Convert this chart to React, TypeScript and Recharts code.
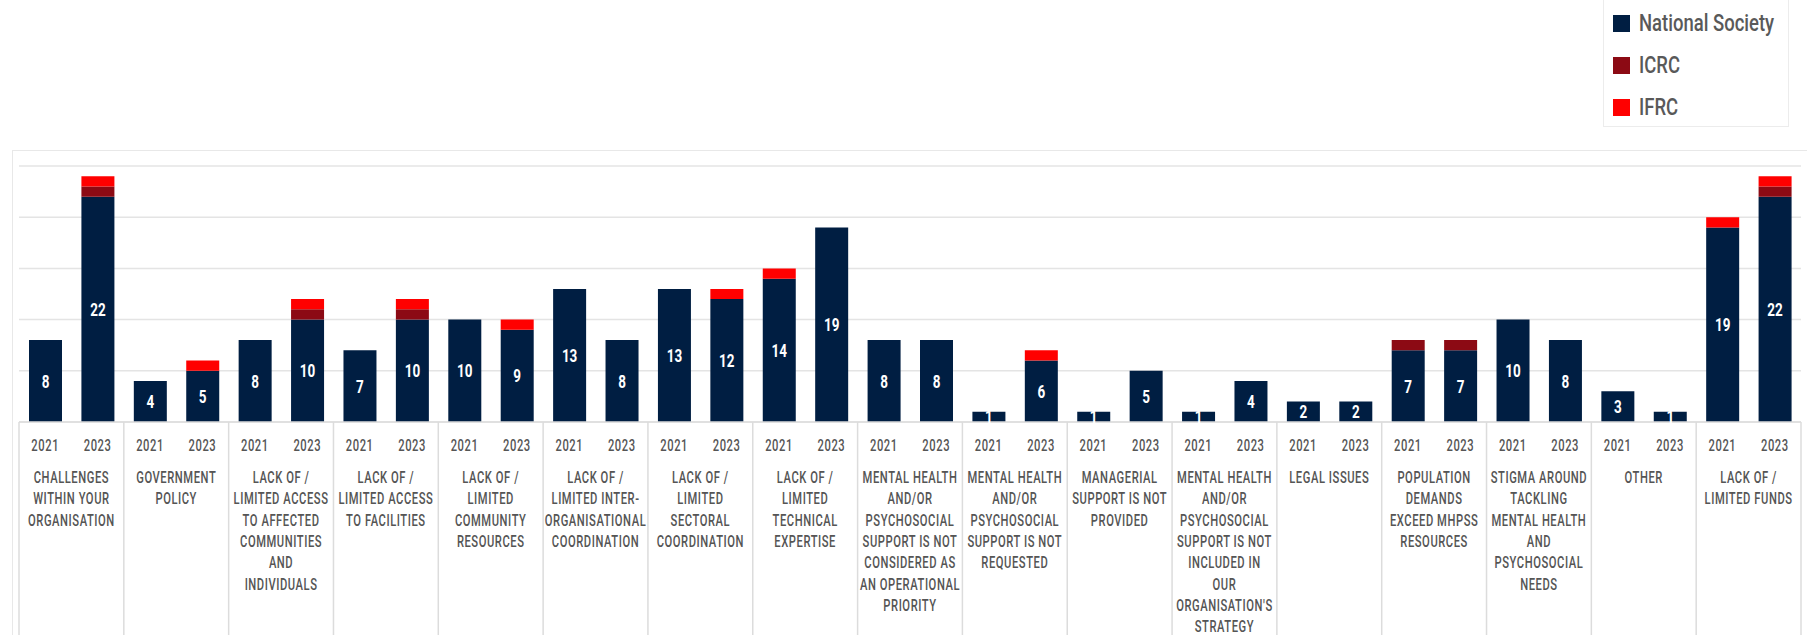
import React from "react";
import { BarChart, Bar, XAxis, YAxis, CartesianGrid, Legend, LabelList } from "recharts";

const categories = [
  "CHALLENGES\nWITHIN YOUR\nORGANISATION",
  "GOVERNMENT\nPOLICY",
  "LACK OF /\nLIMITED ACCESS\nTO AFFECTED\nCOMMUNITIES\nAND\nINDIVIDUALS",
  "LACK OF /\nLIMITED ACCESS\nTO FACILITIES",
  "LACK OF /\nLIMITED\nCOMMUNITY\nRESOURCES",
  "LACK OF /\nLIMITED INTER-\nORGANISATIONAL\nCOORDINATION",
  "LACK OF /\nLIMITED\nSECTORAL\nCOORDINATION",
  "LACK OF /\nLIMITED\nTECHNICAL\nEXPERTISE",
  "MENTAL HEALTH\nAND/OR\nPSYCHOSOCIAL\nSUPPORT IS NOT\nCONSIDERED AS\nAN OPERATIONAL\nPRIORITY",
  "MENTAL HEALTH\nAND/OR\nPSYCHOSOCIAL\nSUPPORT IS NOT\nREQUESTED",
  "MANAGERIAL\nSUPPORT IS NOT\nPROVIDED",
  "MENTAL HEALTH\nAND/OR\nPSYCHOSOCIAL\nSUPPORT IS NOT\nINCLUDED IN\nOUR\nORGANISATION'S\nSTRATEGY",
  "LEGAL ISSUES",
  "POPULATION\nDEMANDS\nEXCEED MHPSS\nRESOURCES",
  "STIGMA AROUND\nTACKLING\nMENTAL HEALTH\nAND\nPSYCHOSOCIAL\nNEEDS",
  "OTHER",
  "LACK OF /\nLIMITED FUNDS",
];

const years = ["2021", "2023"];
const seriesNames = ["National Society", "ICRC", "IFRC"];

const nationalSociety2021 = [8, 4, 8, 7, 10, 13, 13, 14, 8, 1, 1, 1, 2, 7, 10, 3, 19];
const nationalSociety2023 = [22, 5, 10, 10, 9, 8, 12, 19, 8, 6, 5, 4, 2, 7, 8, 1, 22];
const icrc2021 = [0, 0, 0, 0, 0, 0, 0, 0, 0, 0, 0, 0, 0, 1, 0, 0, 0];
const icrc2023 = [1, 0, 1, 1, 0, 0, 0, 0, 0, 0, 0, 0, 0, 1, 0, 0, 1];
const ifrc2021 = [0, 0, 0, 0, 0, 0, 0, 1, 0, 0, 0, 0, 0, 0, 0, 0, 1];
const ifrc2023 = [1, 1, 1, 1, 1, 0, 1, 0, 0, 1, 0, 0, 0, 0, 0, 0, 1];

const yTicks = [0, 5, 10, 15, 20, 25];

const NAVY = "#001e42";
const DARK_RED = "#8c0a14";
const RED = "#ff0000";
const FONT = "Roboto, sans-serif";
const SQUEEZE = 0.7;

const data = categories.flatMap((cat, i) => [
  { id: `${i}-${years[0]}`, year: years[0], category: cat, ns: nationalSociety2021[i], icrc: icrc2021[i], ifrc: ifrc2021[i] },
  { id: `${i}-${years[1]}`, year: years[1], category: cat, ns: nationalSociety2023[i], icrc: icrc2023[i], ifrc: ifrc2023[i] },
]);

const W = 1807;
const H = 635;
const MARGIN = { top: 166, right: 6, bottom: 0, left: 19 };
const AXIS_H = 213;
const SLOT = (W - MARGIN.left - MARGIN.right) / data.length;

// condensed text: the page has no narrow fonts, so squeeze horizontally
const Narrow = ({ x, y, children, size = 16, fill = "#555", weight = 500, sx = SQUEEZE, ls = 0.8 }: any) => (
  <text
    transform={`translate(${x},${y}) scale(${sx},1)`}
    textAnchor="middle"
    fill={fill}
    fontSize={size}
    fontWeight={weight}
    letterSpacing={ls}
    fontFamily={FONT}
  >
    {children}
  </text>
);

const CategoryTick = (props: any) => {
  const { x, y, index } = props;
  const row = data[index];
  const parts: React.ReactNode[] = [];
  parts.push(
    <Narrow key="yr" x={x} y={y + 29}>
      {row.year}
    </Narrow>
  );
  if (index % 2 === 0) {
    const cx = x + SLOT / 2;
    parts.push(<line key="sep" x1={x - SLOT / 2} x2={x - SLOT / 2} y1={y} y2={y + AXIS_H} stroke="#dcdcdc" strokeWidth={1.5} />);
    row.category.split("\n").forEach((ln, k) => {
      parts.push(
        <Narrow key={"c" + k} x={cx} y={y + 61 + k * 21.3}>
          {ln}
        </Narrow>
      );
    });
  }
  if (index === data.length - 1) {
    parts.push(<line key="end" x1={x + SLOT / 2} x2={x + SLOT / 2} y1={y} y2={y + AXIS_H} stroke="#dcdcdc" strokeWidth={1.5} />);
  }
  return <g>{parts}</g>;
};

const BarValue = (props: any) => {
  const { x, y, width, height, value } = props;
  return (
    <Narrow x={x + width / 2} y={y + height / 2 + 6.5} size={18} fill="#fff" weight="bold" sx={0.75} ls={0}>
      {value}
    </Narrow>
  );
};

const LegendBox = (props: any) => {
  const items = [...(props.payload || [])].sort(
    (a: any, b: any) => seriesNames.indexOf(a.value) - seriesNames.indexOf(b.value)
  );
  return (
    <div style={{ border: "1px solid #ececec", borderTop: "none", width: 186, height: 127, boxSizing: "border-box", paddingTop: 2 }}>
      {items.map((it: any) => (
        <div key={it.value} style={{ display: "flex", alignItems: "center", height: 42, paddingLeft: 9, whiteSpace: "nowrap" }}>
          <span style={{ width: 17, height: 17, background: it.color, display: "inline-block", marginRight: 9, flex: "none" }} />
          <span
            style={{
              fontFamily: FONT,
              fontSize: 24,
              fontWeight: 500,
              color: "#595959",
              display: "inline-block",
              transform: "scaleX(0.77)",
              transformOrigin: "left center",
            }}
          >
            {it.value}
          </span>
        </div>
      ))}
    </div>
  );
};

export default function App() {
  return (
    <div style={{ position: "relative", width: W, height: H, background: "#fff", overflow: "hidden" }}>
      <style>{"body{margin:0}"}</style>
      <div style={{ position: "absolute", left: 12, top: 150, width: 1820, height: 600, border: "1px solid #e8e8e8" }} />
      <div style={{ position: "absolute", left: 0, top: 0 }}>
        <BarChart width={W} height={H} data={data} margin={MARGIN} barSize={33}>
          <CartesianGrid vertical={false} stroke="#e4e4e4" strokeWidth={1.5} />
          <YAxis hide domain={[0, 25]} ticks={yTicks} />
          <XAxis
            dataKey="id"
            interval={0}
            height={AXIS_H}
            tickLine={false}
            tickSize={0}
            tickMargin={0}
            axisLine={{ stroke: "#dcdcdc", strokeWidth: 1.5 }}
            tick={<CategoryTick />}
          />
          <Legend
            layout="horizontal"
            verticalAlign="middle"
            align="center"
            content={<LegendBox />}
            wrapperStyle={{ left: 1603, top: 0, width: 186, height: 127 }}
          />
          <Bar dataKey="ns" name={seriesNames[0]} stackId="a" fill={NAVY} isAnimationActive={false}>
            <LabelList dataKey="ns" content={<BarValue />} />
          </Bar>
          <Bar dataKey="icrc" name={seriesNames[1]} stackId="a" fill={DARK_RED} isAnimationActive={false} />
          <Bar dataKey="ifrc" name={seriesNames[2]} stackId="a" fill={RED} isAnimationActive={false} />
        </BarChart>
      </div>
    </div>
  );
}
